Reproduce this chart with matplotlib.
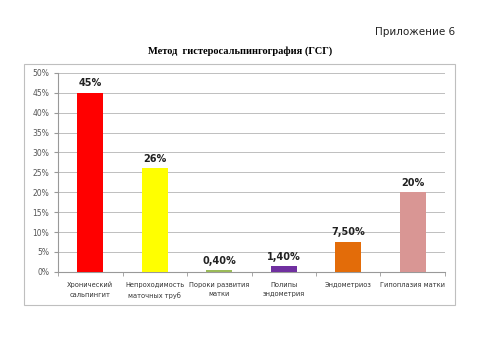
import numpy as np
import matplotlib.pyplot as plt
from matplotlib.patches import Rectangle
from matplotlib.ticker import PercentFormatter

categories = ["Хронический\nсальпингит", "Непроходимость\nматочных труб",
              "Пороки развития\nматки", "Полипы\nэндометрия",
              "Эндометриоз", "Гипоплазия матки"]
values = [45, 26, 0.4, 1.4, 7.5, 20]
labels = ["45%", "26%", "0,40%", "1,40%", "7,50%", "20%"]
colors = ["#FF0000", "#FFFF00", "#9BBB59", "#7030A0", "#E36C09", "#D99694"]

fig = plt.figure(figsize=(4.8, 3.39), dpi=100)

# frame around the chart
fig.patches.append(Rectangle((0.05, 0.10), 0.898, 0.711, transform=fig.transFigure,
                             fill=False, edgecolor="#BFBFBF", linewidth=0.8))

fig.text(0.948, 0.905, "Приложение 6", ha="right", va="center", fontsize=7.5,
         family="DejaVu Sans", color="#222222")
fig.text(0.5, 0.848, "Метод  гистеросальпингография (ГСГ)", ha="center", va="center",
         fontsize=7.5, family="Liberation Serif", fontweight="bold")

ax = fig.add_axes([0.121, 0.198, 0.806, 0.587])
x = np.arange(len(categories))
ax.bar(x, values, width=0.4, color=colors, zorder=3)
for xi, v, lab in zip(x, values, labels):
    ax.text(xi, v + 1.2, lab, ha="center", va="bottom", fontsize=7,
            fontweight="bold", color="#222222")

ax.set_xlim(-0.5, len(categories) - 0.5)
ax.set_ylim(0, 50)
ax.set_yticks(np.arange(0, 51, 5))
ax.yaxis.set_major_formatter(PercentFormatter(decimals=0))
ax.grid(axis="y", color="#BFBFBF", linewidth=0.7, zorder=0)
ax.set_xticks(x)
ax.set_xticklabels(categories, fontsize=4.8, color="#333333", linespacing=1.7)
ax.set_xticks(np.arange(-0.5, len(categories)), minor=True)
ax.tick_params(axis="x", which="major", length=0, pad=7)
ax.tick_params(axis="x", which="minor", length=3, color="#999999")
ax.tick_params(axis="y", labelsize=5.5, labelcolor="#555555", length=3, color="#999999")
for side in ["top", "right"]:
    ax.spines[side].set_visible(False)
ax.spines["left"].set_color("#999999")
ax.spines["bottom"].set_color("#999999")

fig.savefig("out.png", dpi=100)
